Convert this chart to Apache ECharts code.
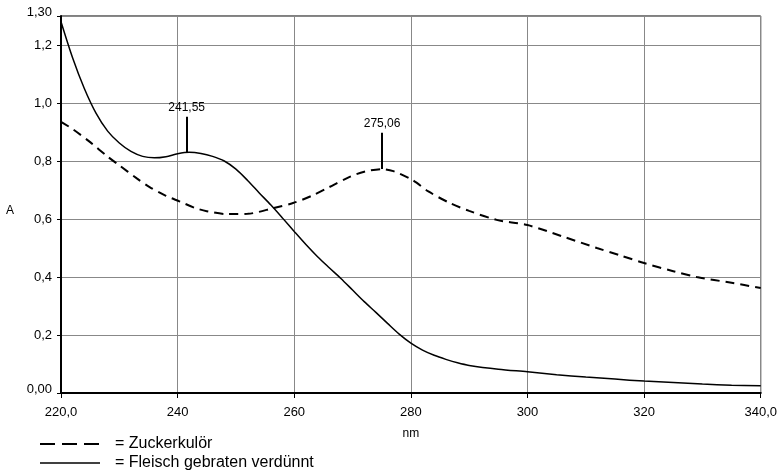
<!DOCTYPE html>
<html>
<head>
<meta charset="utf-8">
<script src="https://cdn.jsdelivr.net/npm/echarts@6/dist/echarts.min.js"></script>
<style>
	html, body { margin: 0; padding: 0; background: #fff; }
	#chart { width: 780px; height: 476px; }
</style>
</head>
<body>
<div id="chart"></div>
<script>
// Fleisch gebraten verdünnt (durchgezogen)
var fleischNm = [220, 222, 224, 226, 228, 230, 232, 234, 236, 238, 240, 242, 244, 246, 248, 250, 252, 254, 256, 258, 260, 262, 264, 266, 268, 270, 272, 274, 276, 278, 280, 282, 284, 286, 288, 290, 295, 300, 305, 310, 315, 320, 325, 330, 335, 340];
var fleischA = [1.28, 1.155, 1.05, 0.965, 0.903, 0.862, 0.833, 0.816, 0.811, 0.815, 0.825, 0.83, 0.826, 0.816, 0.8, 0.772, 0.733, 0.69, 0.648, 0.603, 0.557, 0.512, 0.47, 0.432, 0.395, 0.355, 0.315, 0.278, 0.24, 0.203, 0.172, 0.148, 0.13, 0.116, 0.104, 0.095, 0.082, 0.073, 0.063, 0.055, 0.048, 0.041, 0.036, 0.031, 0.027, 0.025];

// Zuckerkulör (gestrichelt)
var zuckerNm = [220, 222, 225, 228, 230, 233, 235.2, 238, 240.4, 243, 245, 248.5, 252, 256.5, 259.8, 263, 266, 269.5, 272, 275.06, 277, 280.3, 283, 286.7, 290, 294.7, 300, 306, 311.9, 316, 320, 325, 329, 335, 340];
var zuckerA = [0.935, 0.91, 0.865, 0.815, 0.785, 0.74, 0.71, 0.68, 0.66, 0.638, 0.627, 0.617, 0.618, 0.638, 0.655, 0.68, 0.71, 0.745, 0.763, 0.772, 0.765, 0.734, 0.695, 0.655, 0.628, 0.597, 0.579, 0.54, 0.5, 0.474, 0.448, 0.42, 0.4, 0.38, 0.362];

// Maxima
var peakNm = [241.55, 275.06];
var peakA = [0.83, 0.772];
var peakTop = [0.953, 0.897];

var seriesNames = ['Zuckerkulör', 'Fleisch gebraten verdünnt'];

function zip(xs, ys) {
	var out = [];
	for (var i = 0; i < xs.length; ++i) out.push([xs[i], ys[i]]);
	return out;
}

function comma(v, d) {
	return v.toFixed(d).replace('.', ',');
}

function peakLine(i) {
	return [{ coord: [peakNm[i], peakA[i]] }, { coord: [peakNm[i], peakTop[i]], label: { formatter: comma(peakNm[i], 2) } }];
}

var myChart = echarts.init(document.getElementById('chart'));

var font = 'Liberation Sans, Arial, sans-serif';
var gridColor = '#888';

var option = {
	animation: false,
	backgroundColor: '#fff',
	grid: {
		left: 61,
		right: 18,
		top: 16,
		bottom: 83,
		show: true,
		borderColor: '#000',
		borderWidth: 1
	},
	xAxis: {
		type: 'value',
		min: 220,
		max: 340,
		interval: 20,
		name: 'nm',
		nameLocation: 'middle',
		nameGap: 35,
		nameTextStyle: { color: '#000', fontSize: 12, fontFamily: font },
		axisLine: { show: true, lineStyle: { color: '#000', width: 2 } },
		axisTick: { show: true, length: 5, lineStyle: { color: '#000' } },
		axisLabel: {
			color: '#000', fontSize: 13, fontFamily: font, margin: 13,
			formatter: function(v) { return (v === 220 || v === 340) ? comma(v, 1) : String(v); }
		},
		splitLine: { show: true, lineStyle: { color: gridColor, width: 1 } }
	},
	yAxis: {
		type: 'value',
		min: 0,
		max: 1.3,
		interval: 0.2,
		axisLine: { show: true, lineStyle: { color: '#000', width: 2 } },
		axisTick: { show: true, length: 4, lineStyle: { color: '#000' } },
		axisLabel: {
			color: '#000', fontSize: 13, fontFamily: font, margin: 9,
			formatter: function(v) {
				if (v === 0) return '{lo|0,00}';
				if (Math.abs(v - 1.3) < 1e-6) return '{hi|1,30}';
				return comma(v, 1);
			},
			rich: {
				hi: { fontSize: 13, fontFamily: font, color: '#000', padding: [0, 0, 7, 0] },
				lo: { fontSize: 13, fontFamily: font, color: '#000', padding: [0, 0, 8, 0] }
			}
		},
		splitLine: { show: true, lineStyle: { color: gridColor, width: 1 } }
	},
	series: [{
		name: seriesNames[0],
		type: 'line',
		smooth: 0.3,
		symbol: 'none',
		data: zip(zuckerNm, zuckerA),
		lineStyle: { color: '#000', width: 2, type: [9, 6] },
		markLine: {
			silent: true,
			symbol: 'none',
			lineStyle: { color: '#000', width: 2, type: 'solid' },
			label: { position: 'end', distance: 3, color: '#000', fontSize: 12, fontFamily: font },
			data: [peakLine(1)]
		}
	}, {
		name: seriesNames[1],
		type: 'line',
		smooth: 0.3,
		symbol: 'none',
		data: zip(fleischNm, fleischA),
		lineStyle: { color: '#000', width: 1.5 },
		markLine: {
			silent: true,
			symbol: 'none',
			lineStyle: { color: '#000', width: 2, type: 'solid' },
			label: { position: 'end', distance: 3, color: '#000', fontSize: 12, fontFamily: font },
			data: [peakLine(0)]
		}
	}],
	graphic: [
		{ type: 'text', left: 6, top: 205, style: { text: 'A', fill: '#000', font: '12px ' + font } },
		{ type: 'line', shape: { x1: 40, y1: 444, x2: 100, y2: 444 }, style: { stroke: '#000', lineWidth: 2, lineDash: [15, 7] } },
		{ type: 'text', left: 115, top: 436, style: { text: '= ' + seriesNames[0], fill: '#000', font: '16px ' + font } },
		{ type: 'line', shape: { x1: 40, y1: 463, x2: 100, y2: 463 }, style: { stroke: '#000', lineWidth: 1.5 } },
		{ type: 'text', left: 115, top: 455, style: { text: '= ' + seriesNames[1], fill: '#000', font: '16px ' + font } }
	]
};

myChart.setOption(option);
</script>
</body>
</html>
